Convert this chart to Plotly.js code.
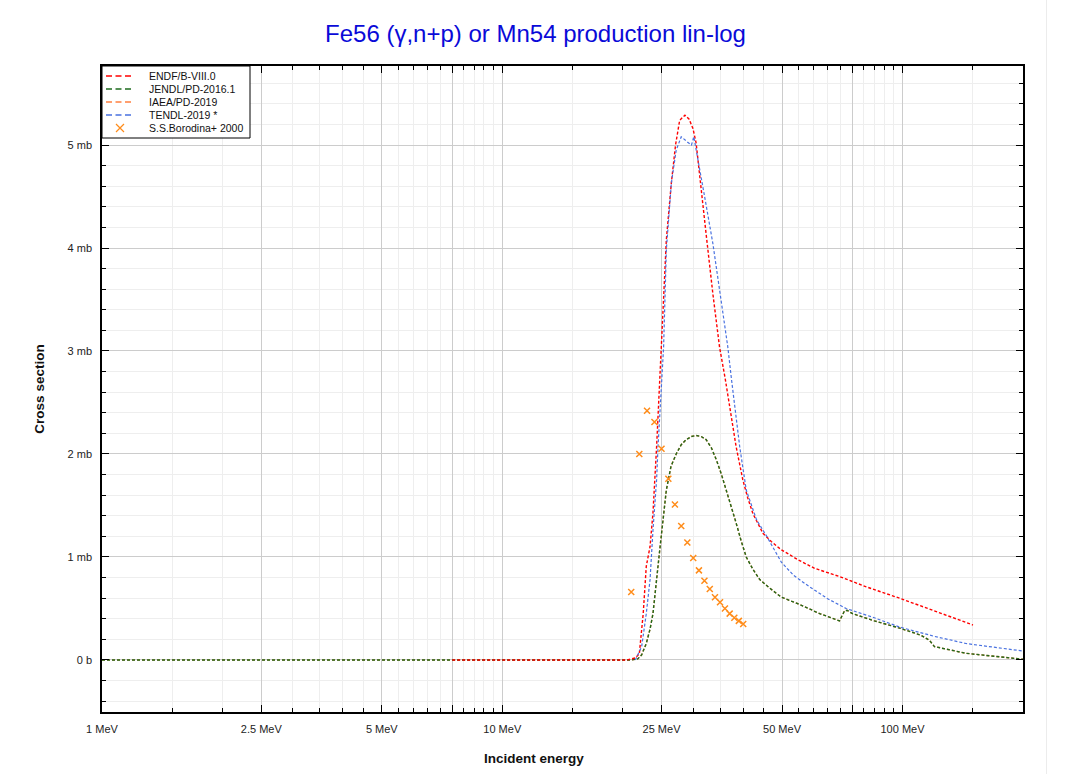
<!DOCTYPE html>
<html><head><meta charset="utf-8">
<script src="https://cdn.plot.ly/plotly-3.0.1.min.js"></script>
<style>
html,body{margin:0;padding:0;background:#fff}
#chart{width:1071px;height:774px;position:relative}
#edge{position:absolute;left:1046px;top:0;width:1px;height:774px;background:#ececec}
</style>
</head><body>
<div id="edge"></div>
<div id="chart"></div>
<script>
// ---- data (energies in MeV, cross sections in mb) ----
const endfE  = [7.5, 20.5, 21.5, 22.0, 22.5, 22.9, 23.4, 23.8, 24.3, 24.7, 25.0, 25.7, 26.45, 27.1, 27.75, 28.6, 29.3, 29.95, 30.5, 31.3, 32.3, 33.6, 34.9, 36.1, 37.2, 38.4, 39.9, 41.0, 42.3, 44.8, 47.0, 49.8, 55.0, 60.3, 69.6, 81.2, 98.3, 119.0, 150.0];
const endfXS = [0, 0, 0.02, 0.06, 0.45, 0.91, 1.10, 1.43, 2.07, 2.70, 3.04, 4.08, 4.63, 5.00, 5.24, 5.29, 5.25, 5.16, 5.02, 4.60, 4.14, 3.55, 3.04, 2.72, 2.40, 2.07, 1.75, 1.58, 1.42, 1.23, 1.15, 1.07, 0.97, 0.89, 0.81, 0.71, 0.60, 0.485, 0.34];

const jendlE  = [1.0, 21.0, 21.8, 22.3, 22.9, 23.4, 23.8, 24.3, 24.7, 25.2, 25.7, 26.4, 27.2, 28.0, 28.8, 29.7, 30.5, 31.4, 32.3, 33.3, 34.3, 35.3, 36.3, 37.4, 38.4, 39.5, 40.7, 42.3, 44.0, 46.5, 49.8, 55.3, 62.1, 69.6, 71.7, 72.9, 75.0, 85.0, 98.3, 111.3, 116.8, 120.2, 144.0, 200.0];
const jendlXS = [0, 0, 0.01, 0.05, 0.16, 0.30, 0.45, 0.75, 1.04, 1.35, 1.65, 1.88, 2.00, 2.09, 2.14, 2.17, 2.18, 2.17, 2.14, 2.06, 1.94, 1.80, 1.65, 1.49, 1.33, 1.16, 1.00, 0.88, 0.78, 0.70, 0.61, 0.54, 0.45, 0.38, 0.48, 0.48, 0.45, 0.38, 0.31, 0.24, 0.19, 0.13, 0.065, 0.007];

const iaeaE  = [1.0, 21.0, 21.8, 22.3, 22.9, 23.4, 23.8, 24.3, 24.7, 25.2, 25.7, 26.4, 27.2, 28.0, 28.8, 29.7, 30.5, 31.4, 32.3, 33.3, 34.3, 35.3, 36.3, 37.4, 38.4, 39.5, 40.7, 42.3, 44.0, 46.5, 49.8, 55.3, 62.1, 69.6, 71.7, 72.9, 75.0, 85.0, 98.3, 111.3, 116.8, 120.2, 144.0, 200.0];
const iaeaXS = [0, 0, 0.01, 0.05, 0.16, 0.30, 0.45, 0.75, 1.04, 1.35, 1.65, 1.88, 2.00, 2.09, 2.14, 2.17, 2.18, 2.17, 2.14, 2.06, 1.94, 1.80, 1.65, 1.49, 1.33, 1.16, 1.00, 0.88, 0.78, 0.70, 0.61, 0.54, 0.45, 0.38, 0.48, 0.48, 0.45, 0.38, 0.31, 0.24, 0.19, 0.13, 0.065, 0.007];

const tendlE  = [21.5, 22.3, 22.9, 23.4, 23.8, 24.3, 24.5, 25.0, 25.3, 25.7, 26.45, 27.2, 28.0, 29.0, 29.7, 30.1, 31.1, 32.3, 33.6, 35.0, 36.6, 37.4, 39.2, 40.7, 43.2, 45.8, 49.8, 53.5, 58.6, 65.0, 72.3, 85.0, 98.3, 120.0, 144.0, 200.0];
const tendlXS = [0, 0.13, 0.45, 0.78, 1.26, 1.75, 2.07, 2.72, 3.04, 3.98, 4.63, 4.95, 5.08, 5.03, 5.00, 5.08, 4.79, 4.42, 4.04, 3.55, 3.04, 2.72, 2.07, 1.65, 1.36, 1.20, 0.95, 0.82, 0.71, 0.595, 0.50, 0.41, 0.32, 0.23, 0.16, 0.087];

const expE  = [21, 22, 23, 24, 25, 26, 27, 28, 29, 30, 31, 32, 33, 34, 35, 36, 37, 38, 39, 40];
const expXS = [0.66, 2.00, 2.42, 2.31, 2.05, 1.76, 1.51, 1.30, 1.14, 0.99, 0.87, 0.77, 0.69, 0.61, 0.56, 0.50, 0.45, 0.41, 0.38, 0.35];

// ---- labels / ticks ----
const seriesNames = ["ENDF/B-VIII.0", "JENDL/PD-2016.1", "IAEA/PD-2019", "TENDL-2019 *", "S.S.Borodina+ 2000"];
const seriesColors = ["#ff0000", "#1e6b1e", "#ff8040", "#4a72e0", "#ff8c1a"];
const xTickVals = [1, 2.5, 5, 7.5, 10, 25, 50, 75, 100];
const xTickText = ["1 MeV", "2.5 MeV", "5 MeV", "", "10 MeV", "25 MeV", "50 MeV", "", "100 MeV"];
const xMinorVals = [1.5, 2, 3, 3.5, 4, 4.5, 5.5, 6, 6.5, 7, 8, 8.5, 9, 9.5, 15, 20, 30, 35, 40, 45, 55, 60, 65, 70, 80, 85, 90, 95, 150, 200];
const yTickVals = [0, 1, 2, 3, 4, 5];
const yTickText = ["0 b", "1 mb", "2 mb", "3 mb", "4 mb", "5 mb"];

const FONT = "Liberation Sans, Arial, Helvetica, sans-serif";
const DASH = "3px,2px";

const traces = [
  {name: seriesNames[2], x: iaeaE, y: iaeaXS, mode: "lines",
   line: {color: seriesColors[2], width: 1.4, dash: DASH}},
  {name: seriesNames[1], x: jendlE, y: jendlXS, mode: "lines",
   line: {color: seriesColors[1], width: 1.4, dash: DASH}},
  {name: seriesNames[0], x: endfE, y: endfXS, mode: "lines",
   line: {color: seriesColors[0], width: 1.4, dash: DASH}},
  {name: seriesNames[3], x: tendlE, y: tendlXS, mode: "lines",
   line: {color: seriesColors[3], width: 1.2, dash: DASH}},
  {name: seriesNames[4], x: expE, y: expXS, mode: "markers",
   marker: {symbol: "x-thin", size: 6, color: seriesColors[4], line: {color: seriesColors[4], width: 1.5}}}
];

// ---- compact legend box (drawn in paper coordinates) ----
const PL = 102, PR = 1023, PT = 66, PB = 712;
const px = v => (v - PL) / (PR - PL);
const py = v => (PB - v) / (PB - PT);
const legRowY = [76, 89, 102, 115, 128];
const shapes = [
  {type: "rect", xref: "paper", yref: "paper", x0: px(102), x1: px(250), y0: py(66), y1: py(138),
   fillcolor: "#ffffff", line: {color: "#000", width: 1}, layer: "above"}
];
const annotations = [];
seriesNames.forEach((nm, i) => {
  const yy = legRowY[i];
  if (i < 4) {
    shapes.push({type: "line", xref: "paper", yref: "paper", x0: px(106), x1: px(134), y0: py(yy), y1: py(yy),
                 line: {color: seriesColors[i], width: 1.6, dash: "6px,3.5px"}, layer: "above"});
  } else {
    shapes.push({type: "path", xref: "paper", yref: "paper", layer: "above",
                 path: `M ${px(116)} ${py(yy-4)} L ${px(124)} ${py(yy+4)} M ${px(116)} ${py(yy+4)} L ${px(124)} ${py(yy-4)}`,
                 line: {color: seriesColors[i], width: 1.2}});
  }
  annotations.push({text: nm, xref: "paper", yref: "paper", x: px(147), y: py(yy),
                    xanchor: "left", yanchor: "middle", showarrow: false,
                    font: {family: FONT, size: 10.5, color: "#111"}});
});
annotations.push({text: "<b>Incident energy</b>", xref: "paper", yref: "paper",
  x: px(534), y: py(758), xanchor: "center", yanchor: "middle",
  showarrow: false, font: {family: FONT, size: 13.5, color: "#111"}});

const layout = {
  width: 1071, height: 774,
  paper_bgcolor: "rgba(0,0,0,0)", plot_bgcolor: "#ffffff",
  margin: {l: PL, r: 1071 - PR, t: PT, b: 774 - PB, pad: 0},
  font: {family: FONT, size: 11, color: "#222"},
  title: {text: "Fe56 (γ,n+p) or Mn54 production lin-log",
          font: {family: FONT, size: 24, color: "#0a0ad8"},
          x: 0.5, xref: "container", xanchor: "center",
          y: 1 - 34/774, yref: "container", yanchor: "middle"},
  showlegend: false,
  xaxis: {type: "log", range: [0, Math.log10(200)],
          tickmode: "array", tickvals: xTickVals, ticktext: xTickText,
          ticks: "inside", ticklen: 7, tickcolor: "#000", tickwidth: 1,
          showline: true, linecolor: "#000", linewidth: 1.5, mirror: "allticks",
          showgrid: true, gridcolor: "#cccccc", gridwidth: 1, zeroline: false,
          ticklabelstandoff: 6,
          tickfont: {family: FONT, size: 11, color: "#222"},
          minor: {tickmode: "array", tickvals: xMinorVals, ticks: "inside", ticklen: 4,
                  tickcolor: "#000", showgrid: true, gridcolor: "#eeeeee", gridwidth: 1}},
  yaxis: {range: [-0.505, 5.767],
          tickmode: "array", tickvals: yTickVals, ticktext: yTickText,
          ticks: "inside", ticklen: 7, tickcolor: "#000", tickwidth: 1,
          showline: true, linecolor: "#000", linewidth: 1.5, mirror: "allticks",
          showgrid: true, gridcolor: "#cccccc", gridwidth: 1, zeroline: false,
          ticklabelstandoff: 6,
          tickfont: {family: FONT, size: 11, color: "#222"},
          title: {text: "<b>Cross section</b>", font: {family: FONT, size: 13.5, color: "#111"}, standoff: 20},
          minor: {dtick: 0.2, ticks: "inside", ticklen: 4, tickcolor: "#000",
                  showgrid: true, gridcolor: "#eeeeee", gridwidth: 1}},
  shapes: shapes,
  annotations: annotations
};

Plotly.newPlot("chart", traces, layout, {displayModeBar: false, responsive: false});
</script>
</body></html>
